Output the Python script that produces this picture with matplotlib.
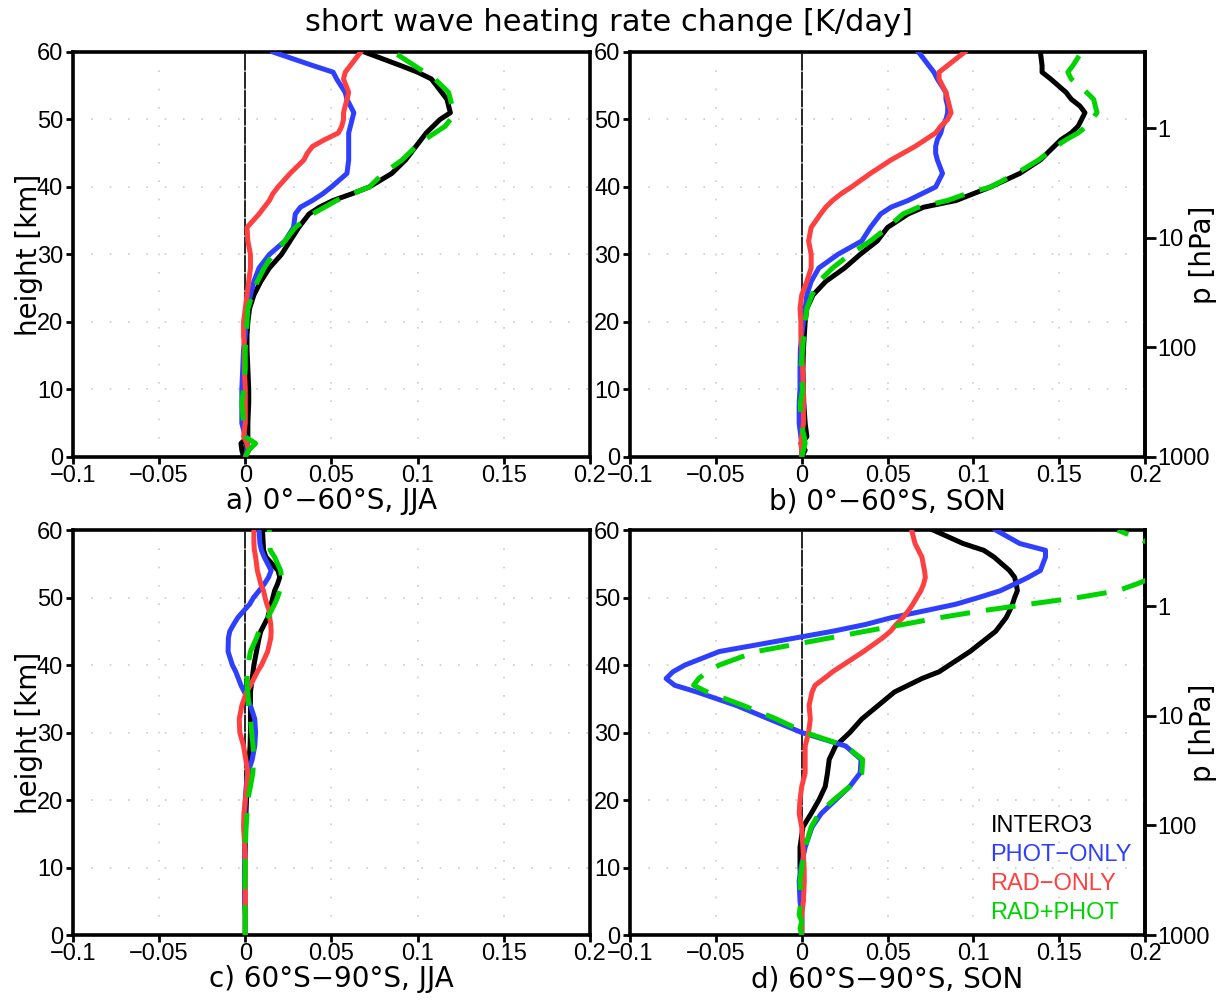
import numpy as np
import matplotlib
matplotlib.use("Agg")
import matplotlib.pyplot as plt

# ==============================
# data: heating rate change [K/day] vs height [km]
# ==============================
height = [0, 1, 2, 3, 5, 8, 10, 13, 16, 18, 20, 22, 24, 26, 28, 30, 32, 34, 36, 37,
          38, 39, 40, 42, 44, 45, 46, 47, 48, 49, 50, 51, 52, 53, 54, 56, 57, 58, 60]

series_names = ["INTERO3", "PHOT\u2212ONLY", "RAD\u2212ONLY", "RAD+PHOT"]
panel_titles = ["a) 0\u00b0\u221260\u00b0S, JJA", "b) 0\u00b0\u221260\u00b0S, SON",
                "c) 60\u00b0S\u221290\u00b0S, JJA", "d) 60\u00b0S\u221290\u00b0S, SON"]

# panel a) 0-60S JJA
a_intero3 = [-0.001, -0.002, -0.0025, 0.0015, 0.0015, 0.002, 0.002, 0.0015, 0.001, 0.001,
             0.0015, 0.0025, 0.005, 0.009, 0.014, 0.021, 0.026, 0.031, 0.037, 0.043,
             0.051, 0.062, 0.072, 0.085, 0.093, 0.096, 0.099, 0.102, 0.105, 0.109,
             0.113, 0.119, 0.118, 0.117, 0.114, 0.108, 0.100, 0.090, 0.069]
a_phot = [0.0, 0.001, 0.0015, 0.0, -0.002, -0.002, -0.002, -0.0015, -0.001, 0.0,
          0.0005, 0.0015, 0.003, 0.005, 0.008, 0.014, 0.023, 0.028, 0.029, 0.032,
          0.039, 0.045, 0.050, 0.059, 0.060, 0.060, 0.060, 0.060, 0.060, 0.061,
          0.062, 0.063, 0.061, 0.059, 0.058, 0.053, 0.051, 0.039, 0.016]
a_rad = [0.0, 0.002, 0.001, -0.001, 0.0, 0.0, 0.0, -0.0005, -0.0005, -0.001,
         -0.001, 0.0, 0.001, 0.002, 0.003, 0.003, 0.0015, 0.001, 0.008, 0.011,
         0.014, 0.016, 0.019, 0.026, 0.034, 0.036, 0.039, 0.046, 0.054, 0.056,
         0.057, 0.057, 0.058, 0.059, 0.060, 0.057, 0.058, 0.061, 0.067]
a_radphot = [0.0, 0.002, 0.006, 0.0, -0.001, -0.002, -0.001, 0.0, 0.0, 0.0005,
             0.001, 0.0015, 0.004, 0.007, 0.011, 0.016, 0.023, 0.029, 0.039, 0.046,
             0.053, 0.062, 0.072, 0.080, 0.091, 0.095, 0.099, 0.104, 0.110, 0.116,
             0.119, 0.120, 0.120, 0.119, 0.118, 0.110, 0.104, 0.098, 0.086]

# panel b) 0-60S SON
b_intero3 = [0.0, 0.002, -0.0005, 0.003, 0.002, 0.0012, 0.001, 0.0007, 0.001, 0.0015,
             0.002, 0.003, 0.0066, 0.014, 0.025, 0.034, 0.044, 0.050, 0.062, 0.071,
             0.090, 0.100, 0.110, 0.127, 0.139, 0.143, 0.147, 0.151, 0.157, 0.161,
             0.163, 0.165, 0.162, 0.157, 0.154, 0.145, 0.140, 0.140, 0.139]
b_phot = [0.0, 0.0, 0.0, -0.0005, -0.0015, -0.0015, -0.001, -0.001, -0.0008, 0.0,
          0.001, 0.002, 0.003, 0.0055, 0.010, 0.021, 0.035, 0.040, 0.046, 0.052,
          0.062, 0.070, 0.078, 0.082, 0.079, 0.078, 0.078, 0.079, 0.081, 0.082,
          0.084, 0.085, 0.085, 0.084, 0.084, 0.079, 0.077, 0.074, 0.068]
b_rad = [0.0, 0.0, -0.0005, 0.0, 0.001, 0.001, 0.001, 0.0005, 0.0, -0.0005,
         -0.0005, -0.001, 0.0, 0.003, 0.0055, 0.0055, 0.004, 0.0055, 0.011, 0.014,
         0.018, 0.023, 0.029, 0.040, 0.052, 0.059, 0.066, 0.072, 0.078, 0.081,
         0.085, 0.087, 0.086, 0.085, 0.084, 0.080, 0.080, 0.085, 0.095]
b_radphot = [0.0, 0.001, 0.002, 0.0015, -0.0005, -0.0008, 0.0005, -0.0005, 0.0005, 0.0012,
             0.002, 0.003, 0.006, 0.010, 0.018, 0.028, 0.040, 0.050, 0.059, 0.068,
             0.085, 0.096, 0.110, 0.125, 0.138, 0.143, 0.148, 0.154, 0.161, 0.166,
             0.169, 0.172, 0.171, 0.170, 0.166, 0.157, 0.155, 0.158, 0.163]

# panel c) 60-90S JJA
c_intero3 = [0.0, 0.0, 0.0, 0.0, -0.0002, -0.0003, -0.0003, 0.0, 0.0, 0.0004,
             0.0007, 0.0012, 0.0018, 0.0022, 0.0028, 0.003, 0.003, 0.003, 0.003, 0.0035,
             0.004, 0.0045, 0.005, 0.0065, 0.008, 0.009, 0.011, 0.013, 0.014, 0.015,
             0.016, 0.017, 0.0187, 0.020, 0.019, 0.012, 0.0106, 0.0104, 0.010]
c_phot = [0.0, 0.0, 0.0, 0.0, -0.0003, -0.0003, -0.0003, -0.0003, -0.0002, -0.0002,
          0.0, 0.0005, 0.0015, 0.004, 0.0055, 0.006, 0.0055, 0.003, -0.0005, -0.0025,
          -0.004, -0.0055, -0.0075, -0.010, -0.0098, -0.009, -0.0068, -0.0044, -0.001, 0.0025,
          0.0048, 0.008, 0.011, 0.0135, 0.015, 0.011, 0.0094, 0.0085, 0.008]
c_rad = [0.0, 0.0, 0.0, 0.0, 0.0, 0.0, 0.0, -0.0003, -0.001, -0.0008,
         0.0, 0.0008, 0.0014, 0.0003, -0.001, -0.0032, -0.0035, -0.002, 0.0007, 0.003,
         0.005, 0.007, 0.0094, 0.013, 0.0148, 0.015, 0.0148, 0.0142, 0.014, 0.0125,
         0.0115, 0.0106, 0.009, 0.008, 0.007, 0.006, 0.0053, 0.005, 0.005]
c_radphot = [0.0, 0.0, 0.0, 0.0, -0.0002, -0.0002, 0.0, 0.0, 0.0005, 0.001,
             0.0014, 0.003, 0.0044, 0.0048, 0.0045, 0.0037, 0.003, 0.002, 0.0015, 0.001,
             0.001, 0.001, 0.0015, 0.003, 0.0065, 0.008, 0.0106, 0.013, 0.015, 0.017,
             0.0187, 0.020, 0.021, 0.021, 0.0205, 0.017, 0.0145, 0.014, 0.014]

# panel d) 60-90S SON
d_intero3 = [0.0, 0.0, 0.0, 0.0, 0.0, -0.0005, -0.001, -0.001, 0.0007, 0.0055,
             0.010, 0.0137, 0.015, 0.016, 0.0197, 0.028, 0.035, 0.0445, 0.054, 0.062,
             0.070, 0.080, 0.086, 0.098, 0.108, 0.113, 0.116, 0.119, 0.121, 0.1227,
             0.124, 0.1256, 0.125, 0.124, 0.121, 0.112, 0.106, 0.094, 0.0765]
d_phot = [0.0, 0.0, 0.0, 0.0, -0.001, -0.0015, -0.0005, 0.002, 0.006, 0.0114,
          0.0197, 0.028, 0.034, 0.0346, 0.0256, 0.0, -0.019, -0.038, -0.061, -0.074,
          -0.079, -0.075, -0.068, -0.048, -0.004, 0.018, 0.037, 0.052, 0.071, 0.0896,
          0.103, 0.1156, 0.124, 0.132, 0.139, 0.142, 0.142, 0.127, 0.113]
d_rad = [0.0, 0.0, 0.0, 0.0, 0.001, 0.0015, 0.0014, 0.0007, 0.0, -0.0015,
         -0.001, 0.0, 0.002, 0.002, 0.002, 0.004, 0.005, 0.0043, 0.006, 0.0078,
         0.013, 0.018, 0.024, 0.036, 0.047, 0.0517, 0.055, 0.0588, 0.062, 0.0647,
         0.067, 0.0694, 0.071, 0.072, 0.0715, 0.070, 0.068, 0.066, 0.064]
d_radphot = [0.0, -0.001, 0.0, -0.0015, -0.0005, -0.001, 0.0, 0.002, 0.0055, 0.010,
             0.0185, 0.028, 0.035, 0.0355, 0.0256, 0.002, -0.0147, -0.034, -0.055, -0.063,
             -0.060, -0.055, -0.048, -0.0265, 0.016, 0.037, 0.0588, 0.080, 0.104, 0.132,
             0.161, 0.184, 0.195, 0.205, 0.215, 0.225, 0.213, 0.203, 0.184]

panels = [
    [a_intero3, a_phot, a_rad, a_radphot],
    [b_intero3, b_phot, b_rad, b_radphot],
    [c_intero3, c_phot, c_rad, c_radphot],
    [d_intero3, d_phot, d_rad, d_radphot],
]

x_ticks = [-0.1, -0.05, 0, 0.05, 0.1, 0.15, 0.2]
x_ticklabels = ["\u22120.1", "\u22120.05", "0", "0.05", "0.1", "0.15", "0.2"]
y_ticks = [0, 10, 20, 30, 40, 50, 60]
p_ticks = [1, 10, 100, 1000]

colors = ["black", "#2f3fff", "#ff4040", "#00d400"]

SCALE_H = 7.05  # km, for the pressure axis
tickfont = "Liberation Sans"


def z2p(z):
    return 1000.0 * np.exp(-np.asarray(z, dtype=float) / SCALE_H)


def p2z(p):
    p = np.clip(np.asarray(p, dtype=float), 1e-6, None)
    return -SCALE_H * np.log(p / 1000.0)


fig = plt.figure(figsize=(12.26, 10.01), dpi=100)

ax_pos = [
    [0.0595, 0.5435, 0.4217, 0.4046],
    [0.5139, 0.5435, 0.4201, 0.4046],
    [0.0595, 0.0659, 0.4217, 0.4046],
    [0.5139, 0.0659, 0.4201, 0.4046],
]

for i, (pos, series) in enumerate(zip(ax_pos, panels)):
    ax = fig.add_axes(pos)
    ax.axvline(0, color="black", lw=1.2, zorder=1)
    for j, (vals, col) in enumerate(zip(series, colors)):
        if j == 3:
            ax.plot(vals, height, color=col, lw=3.6, dashes=(6, 3.2),
                    solid_capstyle="round", zorder=3 + j)
        else:
            ax.plot(vals, height, color=col, lw=3.6, zorder=3 + j,
                    solid_joinstyle="round")
    ax.set_xlim(-0.1, 0.2)
    ax.set_ylim(0, 60)
    ax.set_xticks(x_ticks)
    ax.set_xticklabels(x_ticklabels, family=tickfont, fontsize=17)
    ax.set_yticks(y_ticks)
    ax.set_yticklabels([str(v) for v in y_ticks], family=tickfont, fontsize=17)
    ax.tick_params(direction="out", length=5, width=2, pad=2)
    ax.tick_params(axis="x", pad=1)
    ax.grid(True, color="#cccccc", lw=1.2, linestyle=(0, (1, 10)))
    for sp in ax.spines.values():
        sp.set_linewidth(2.6)
    ax.set_xlabel(panel_titles[i], fontsize=20, labelpad=0)

    if i % 2 == 0:
        ax.set_ylabel("height [km]", fontsize=20)
        ax.yaxis.set_label_coords(-0.058, 0.5)
    else:
        sec = ax.secondary_yaxis("right", functions=(z2p, p2z))
        sec.set_yticks(p_ticks)
        sec.set_yticklabels([str(v) for v in p_ticks], family=tickfont, fontsize=17)
        sec.tick_params(direction="out", length=8, width=2, pad=1)
        sec.yaxis.set_minor_locator(matplotlib.ticker.NullLocator())
        sec.spines["right"].set_linewidth(2.6)
        ax.text(1.113, 0.5, "p [hPa]", fontsize=20, rotation=90,
                transform=ax.transAxes, ha="center", va="center")

    if i == 3:
        for k, (name, col) in enumerate(zip(series_names, colors)):
            ax.text(0.70, 0.269 - k * 0.0717, name, color=col, transform=ax.transAxes,
                    family=tickfont, fontsize=17, va="center", ha="left")

fig.text(0.497, 0.978, "short wave heating rate change [K/day]",
         fontsize=22, ha="center", va="center")

fig.savefig("out.png", dpi=100)
